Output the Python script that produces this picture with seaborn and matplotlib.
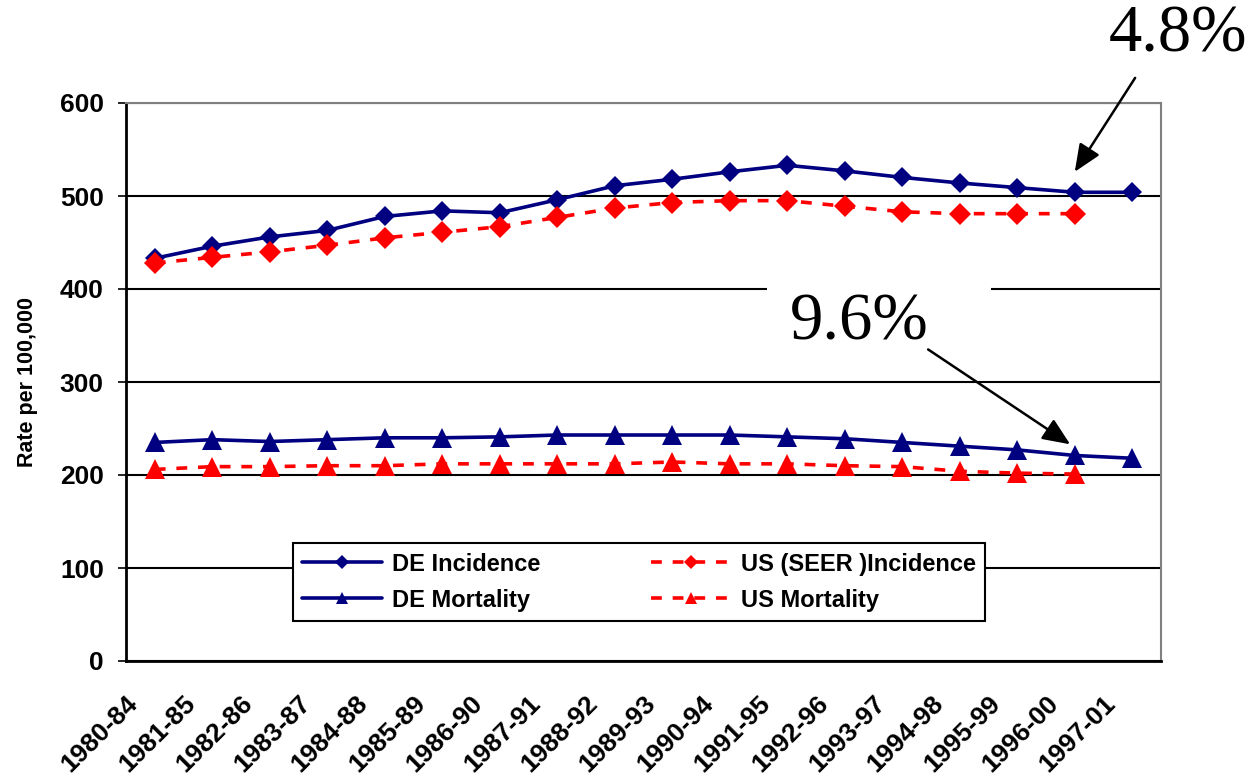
import numpy as np
import pandas as pd
import matplotlib
matplotlib.use("Agg")
import matplotlib.pyplot as plt
import matplotlib.transforms as mtransforms
import seaborn as sns
from matplotlib.patches import Rectangle

categories = ["1980-84", "1981-85", "1982-86", "1983-87", "1984-88", "1985-89",
              "1986-90", "1987-91", "1988-92", "1989-93", "1990-94", "1991-95",
              "1992-96", "1993-97", "1994-98", "1995-99", "1996-00", "1997-01"]
de_incidence = [433, 446, 456, 463, 478, 484, 482, 496, 511, 518, 526, 533,
                527, 520, 514, 509, 504, 504]
us_incidence = [428, 434, 440, 447, 455, 461, 467, 477, 487, 493, 495, 495,
                489, 483, 481, 481, 481]
de_mortality = [235, 238, 236, 238, 240, 240, 241, 243, 243, 243, 243, 241,
                239, 235, 231, 227, 221, 218]
us_mortality = [206, 209, 209, 210, 210, 212, 212, 212, 212, 214, 212, 212,
                210, 209, 204, 202, 201]

sns.set_theme(style="white")
plt.rcParams["font.family"] = ["Liberation Sans", "DejaVu Sans"]
plt.rcParams["text.color"] = "black"
plt.rcParams["axes.labelcolor"] = "black"
plt.rcParams["xtick.color"] = "black"
plt.rcParams["ytick.color"] = "black"

fig = plt.figure(figsize=(12.55, 7.80), dpi=100)
ax = fig.add_axes([126/1255, 1-661/780, (1161-126)/1255, (661-103)/780])

navy = "#000080"
red = "#FF0000"

def frame(vals, name):
    return pd.DataFrame({"x": np.arange(len(vals)), "y": vals, "s": name})

sns.lineplot(data=frame(de_incidence, "DE Incidence"), x="x", y="y", ax=ax,
             color=navy, lw=2.6, marker="D", markersize=10.5, markeredgewidth=0,
             label="DE Incidence", zorder=3)
sns.lineplot(data=frame(de_mortality, "DE Mortality"), x="x", y="y", ax=ax,
             color=navy, lw=2.6, marker="^", markersize=14, markeredgewidth=0,
             label="DE Mortality", zorder=3)
sns.lineplot(data=frame(us_incidence, "US (SEER )Incidence"), x="x", y="y", ax=ax,
             color=red, lw=2.6, marker="D", markersize=11, markeredgewidth=0,
             label="US (SEER )Incidence", zorder=3)
sns.lineplot(data=frame(us_mortality, "US Mortality"), x="x", y="y", ax=ax,
             color=red, lw=2.6, marker="^", markersize=14, markeredgewidth=0,
             label="US Mortality", zorder=3)
for ln in ax.lines[2:]:
    ln.set_dashes((3, 3))

n = len(categories)
ax.set_xlim(-0.5, n - 0.5)
ax.set_ylim(0, 600)
ax.set_yticks(np.arange(0, 601, 100))
ax.set_yticklabels([str(v) for v in range(0, 601, 100)], fontsize=19, fontweight="bold")
ax.set_xticks(np.arange(-0.5, n, 1.0))
ax.set_xticklabels([])
ax.set_xticks(np.arange(n), minor=True)
ax.set_xticklabels(categories, minor=True, rotation=45, ha="right",
                   fontsize=19, fontweight="bold")
ax.tick_params(axis="x", which="minor", length=0, pad=22)
ax.tick_params(axis="x", which="major", length=6, width=1.2, direction="out")
ax.tick_params(axis="y", length=6, width=1.2, direction="out", pad=10, left=True)
offset = mtransforms.ScaledTranslation(-12/100, 0, fig.dpi_scale_trans)
for lab in ax.get_xticklabels(minor=True):
    lab.set_transform(lab.get_transform() + offset)
ax.set_xlabel("")
ax.set_ylabel("Rate per 100,000", fontsize=15.5, fontweight="bold", labelpad=16)

ax.set_axisbelow(True)
ax.yaxis.grid(True, color="black", lw=1.5)
ax.xaxis.grid(False)
for s in ["left", "bottom"]:
    ax.spines[s].set_color("black")
    ax.spines[s].set_linewidth(2)
for s in ["top", "right"]:
    ax.spines[s].set_color("#808080")
    ax.spines[s].set_linewidth(1.5)

# white text box interrupting gridline
ax.add_patch(Rectangle((10.65, 385), 3.9, 30, facecolor="white", edgecolor="none", zorder=1.5))

handles, labels = ax.get_legend_handles_labels()
leg = ax.legend(handles, labels, ncol=2, loc="lower left",
                bbox_to_anchor=(0.161, 0.0717, 0.669, 0.14), mode="expand",
                prop={"size": 17, "weight": "bold"}, frameon=True, fancybox=False,
                edgecolor="black", facecolor="white", framealpha=1,
                handlelength=3.4, handletextpad=0.4,
                markerscale=0.65, borderaxespad=0, labelspacing=0.55,
                borderpad=0.4)
leg.get_frame().set_linewidth(1.5)

serif = ["Liberation Serif", "DejaVu Serif"]
ax.text(12.25, 363, "9.6%", fontsize=48, family=serif, ha="center", va="center", zorder=4)
fig.text(0.9386, 0.955, "4.8%", fontsize=48, family=serif, ha="center", va="center")

ax.annotate("", xy=(15.92, 233), xytext=(13.45, 335), xycoords="data",
            arrowprops=dict(arrowstyle="-|>,head_length=1.4,head_width=0.6",
                            color="black", lw=1.8, shrinkA=0, shrinkB=0),
            annotation_clip=False, zorder=5)
ax.annotate("", xy=(16.0, 526), xytext=(17.05, 627), xycoords="data",
            arrowprops=dict(arrowstyle="-|>,head_length=1.4,head_width=0.6",
                            color="black", lw=1.8, shrinkA=0, shrinkB=0),
            annotation_clip=False, zorder=5)

fig.savefig("out.png", dpi=100)
